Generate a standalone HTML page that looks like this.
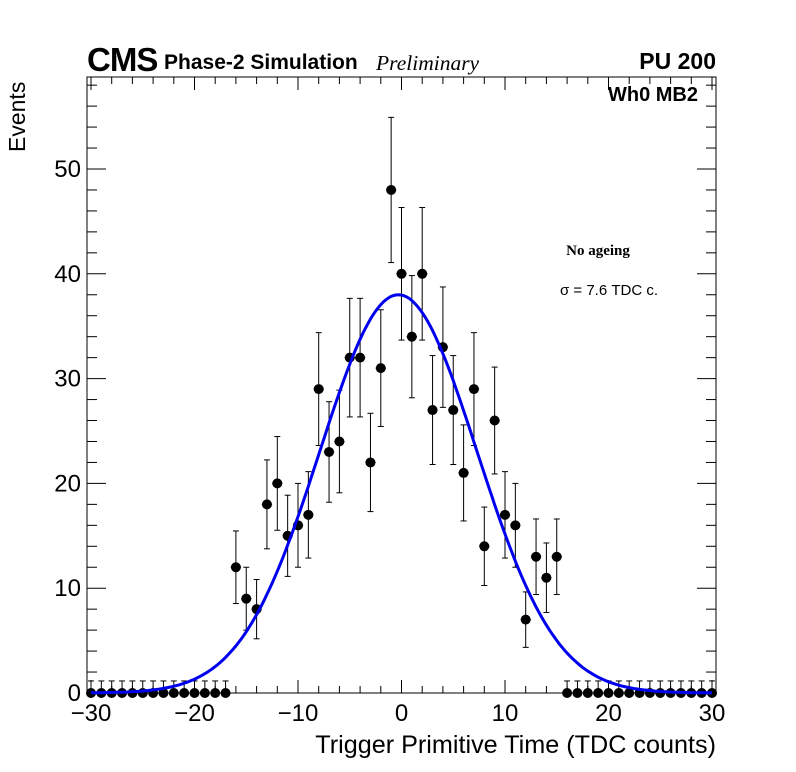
<!DOCTYPE html>
<html><head><meta charset="utf-8"><style>
body{margin:0;background:#fff}
svg{display:block;font-family:"Liberation Sans",sans-serif}
</style></head><body>
<svg id="c" width="796" height="772" viewBox="0 0 796 772">
<rect width="796" height="772" fill="#fff"/>
<g id="axes"></g>
<g id="marks"></g>
<text x="87" y="71" font-size="33" font-weight="bold" letter-spacing="-1">CMS</text>
<text x="164" y="69" font-size="21" font-weight="bold">Phase-2 Simulation</text>
<text x="376" y="70" font-size="21.5" font-style="italic" font-family="Liberation Serif, serif">Preliminary</text>
<text x="716" y="69" font-size="23" font-weight="bold" text-anchor="end">PU 200</text>
<text x="698" y="101" font-size="20" font-weight="bold" text-anchor="end">Wh0 MB2</text>
<text x="598" y="255" font-size="15" font-weight="bold" font-family="Liberation Serif, serif" text-anchor="middle">No ageing</text>
<text x="609" y="295" font-size="15" text-anchor="middle">σ = 7.6 TDC c.</text>
<text x="716" y="753" font-size="25.2" text-anchor="end">Trigger Primitive Time (TDC counts)</text>
<text transform="translate(25,152) rotate(-90)" font-size="23">Events</text>
</svg>
<script>
const xVals=[-30,-29,-28,-27,-26,-25,-24,-23,-22,-21,-20,-19,-18,-17,-16,-15,-14,-13,-12,-11,-10,-9,-8,-7,-6,-5,-4,-3,-2,-1,0,1,2,3,4,5,6,7,8,9,10,11,12,13,14,15,16,17,18,19,20,21,22,23,24,25,26,27,28,29,30];
const counts=[0,0,0,0,0,0,0,0,0,0,0,0,0,0,12,9,8,18,20,15,16,17,29,23,24,32,32,22,31,48,40,34,40,27,33,27,21,29,14,26,17,16,7,13,11,13,0,0,0,0,0,0,0,0,0,0,0,0,0,0,0];
const fitAmp=38, fitMean=-0.3, fitSigma=7.6;
const xTicks=[-30,-20,-10,0,10,20,30];
const yTicks=[0,10,20,30,40,50];
const NS='http://www.w3.org/2000/svg';
const X=v=>91+(v+30)*10.35, Y=v=>693-v*10.48;
const L=87,R=716,T=77,B=693;
function mk(t,a,p){const e=document.createElementNS(NS,t);for(const k in a)e.setAttribute(k,a[k]);p.appendChild(e);return e;}
const ax=document.getElementById('axes'), mg=document.getElementById('marks');
const fr=mk('rect',{x:L,y:T,width:R-L,height:B-T,fill:'none',stroke:'#000','stroke-width':1},ax);


for(let v=-30;v<=30;v+=2){const maj=v%10===0;const len=maj?13:7;
 mk('line',{x1:X(v),x2:X(v),y1:B,y2:B-len,stroke:'#000'},ax);
 mk('line',{x1:X(v),x2:X(v),y1:T,y2:T+len,stroke:'#000'},ax);}
for(let v=0;v<=58;v+=2){const maj=v%10===0;const len=maj?19:10;
 mk('line',{x1:L,x2:L+len,y1:Y(v),y2:Y(v),stroke:'#000'},ax);
 mk('line',{x1:R,x2:R-len,y1:Y(v),y2:Y(v),stroke:'#000'},ax);}
xTicks.forEach(v=>{const t=mk('text',{x:X(v),y:721,'font-size':24,'text-anchor':'middle'},ax);t.textContent=(v<0?'\u2212'+(-v):v);
 
 });
yTicks.forEach(v=>{const t=mk('text',{x:81,y:Y(v)+8,'font-size':24,'text-anchor':'end'},ax);t.textContent=v;
 
 });
xVals.forEach((x,i)=>{const n=counts[i];const g=mk('g',{},mg);
 
 
 const up=n>0?Math.sqrt(n):1.15, dn=n>0?Math.sqrt(n):0;
 const cx=X(x),cy=Y(n);
 mk('line',{x1:cx,x2:cx,y1:Y(n+up),y2:Y(n-dn),stroke:'#000'},g);
 mk('line',{x1:cx-3,x2:cx+3,y1:Y(n+up),y2:Y(n+up),stroke:'#000'},g);
 if(n>0){mk('line',{x1:cx-3,x2:cx+3,y1:Y(n-dn),y2:Y(n-dn),stroke:'#000'},g);
  mk('line',{x1:X(x-0.5),x2:X(x+0.5),y1:cy,y2:cy,stroke:'#000'},g);}
 mk('circle',{cx:cx,cy:cy,r:5,fill:'#000'},g);});
let d='';for(let v=-30;v<=30.001;v+=0.25){const y=fitAmp*Math.exp(-((v-fitMean)**2)/(2*fitSigma*fitSigma));d+=(d?'L':'M')+X(v).toFixed(1)+','+Y(y).toFixed(1);}
const p=mk('path',{d:d,fill:'none',stroke:'#0000ee','stroke-width':3},mg);


</script>
</body></html>
